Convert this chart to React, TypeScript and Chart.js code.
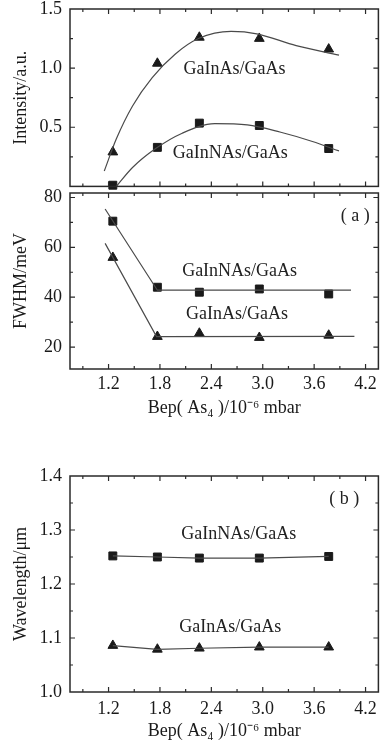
import React, { useEffect, useRef } from 'react';
import { Chart, registerables } from 'chart.js';

Chart.register(...registerables);

// ---------- data ----------
const bep = [1.25, 1.77, 2.26, 2.96, 3.77];

const intensityGaInAs = [0.29, 1.04, 1.26, 1.25, 1.16];
const intensityGaInNAs = [0.01, 0.33, 0.535, 0.515, 0.32];
const intFitGaInAsX = [1.15, 1.29, 1.48, 1.71, 1.98, 2.25, 2.63, 2.93, 3.39, 3.89];
const intFitGaInAsY = [0.13, 0.4, 0.68, 0.92, 1.12, 1.25, 1.31, 1.29, 1.19, 1.11];
const intFitGaInNAsX = [1.29, 1.48, 1.75, 2.06, 2.44, 2.82, 3.2, 3.58, 3.89];
const intFitGaInNAsY = [0.0, 0.16, 0.32, 0.45, 0.53, 0.52, 0.46, 0.38, 0.3];

const fwhmGaInNAs = [70.5, 44.0, 42.0, 43.3, 41.3];
const fwhmGaInAs = [55.9, 24.2, 25.5, 23.8, 24.7];
const fwhmFitGaInNAsX = [1.16, 1.77, 4.03];
const fwhmFitGaInNAsY = [75.4, 42.8, 42.8];
const fwhmFitGaInAsX = [1.16, 1.76, 4.07];
const fwhmFitGaInAsY = [61.6, 24.2, 24.3];

const wlGaInNAs = [1.252, 1.25, 1.248, 1.248, 1.251];
const wlGaInAs = [1.086, 1.079, 1.081, 1.083, 1.083];

const xTicks = [0.9, 1.2, 1.5, 1.8, 2.1, 2.4, 2.7, 3.0, 3.3, 3.6, 3.9, 4.2];
const xTickLabels = [1.2, 1.8, 2.4, 3.0, 3.6, 4.2];
const intTicks = [0, 0.25, 0.5, 0.75, 1.0, 1.25, 1.5];
const intTickLabels = [0.5, 1.0, 1.5];
const fwhmTicks = [20, 30, 40, 50, 60, 70, 80];
const fwhmTickLabels = [20, 40, 60, 80];
const wlTicks = [1.0, 1.05, 1.1, 1.15, 1.2, 1.25, 1.3, 1.35, 1.4];
const wlTickLabels = [1.0, 1.1, 1.2, 1.3, 1.4];

const xTitle = 'Bep( As\u2084 )/10\u207B\u2076 mbar';

// ---------- helpers ----------
const FONT = "'Liberation Serif', 'Times New Roman', serif";
const INK = '#1a1a1a';
const LINE = '#4a4a4a';

const pts = (xs: number[], ys: number[]) => xs.map((x, i) => ({ x, y: ys[i] }));
const has = (arr: number[], v: number) => arr.some((a) => Math.abs(a - v) < 1e-6);

type Txt = { text: string; x: number; y: number };

const framePlugin = {
  id: 'frameTicks',
  afterDatasetsDraw(chart: any, _args: any, opts: any) {
    const { ctx, chartArea } = chart;
    const { left, right, top, bottom } = chartArea;
    const xs = chart.scales.x;
    const ys = chart.scales.y;
    ctx.save();
    ctx.strokeStyle = '#2a2a2a';
    ctx.lineWidth = 1.5;
    ctx.strokeRect(left, top, right - left, bottom - top);
    ctx.lineWidth = 1.2;
    ctx.beginPath();
    xs.ticks.forEach((t: any) => {
      const p = xs.getPixelForValue(t.value);
      if (p < left + 1 || p > right - 1) return;
      const len = t.label !== '' ? 5 : 3;
      ctx.moveTo(p, bottom);
      ctx.lineTo(p, bottom - len);
      ctx.moveTo(p, top);
      ctx.lineTo(p, top + len);
    });
    ys.ticks.forEach((t: any) => {
      const p = ys.getPixelForValue(t.value);
      if (p < top + 1 || p > bottom - 1) return;
      const len = t.label !== '' ? 5 : 3;
      ctx.moveTo(left, p);
      ctx.lineTo(left + len, p);
      ctx.moveTo(right, p);
      ctx.lineTo(right - len, p);
    });
    ctx.stroke();
    ctx.fillStyle = '#222';
    ctx.font = `18px ${FONT}`;
    ctx.textAlign = 'center';
    ctx.textBaseline = 'middle';
    ((opts && opts.texts) || []).forEach((t: Txt) => {
      ctx.fillText(t.text, xs.getPixelForValue(t.x), ys.getPixelForValue(t.y));
    });
    ctx.restore();
  },
};

function markerSet(xs: number[], ys: number[], style: string) {
  return {
    data: pts(xs, ys),
    showLine: false,
    pointStyle: style,
    pointRadius: 5.6,
    pointBackgroundColor: INK,
    pointBorderColor: INK,
    pointBorderWidth: 1,
    clip: false as any,
  };
}

function lineSet(xs: number[], ys: number[], smooth: boolean) {
  return {
    data: pts(xs, ys),
    showLine: true,
    pointRadius: 0,
    borderColor: LINE,
    borderWidth: 1.2,
    cubicInterpolationMode: smooth ? 'monotone' : 'default',
    tension: 0,
    clip: false as any,
  };
}

interface PanelOpts {
  datasets: any[];
  yMin: number;
  yMax: number;
  yTicks: number[];
  yLabels: number[];
  yDecimals: number;
  yTitle: string;
  showX: boolean;
  xHeight: number;
  xPad: number;
  padTop: number;
  texts: Txt[];
}

function makeConfig(o: PanelOpts): any {
  return {
    type: 'scatter',
    data: { datasets: o.datasets },
    plugins: [framePlugin],
    options: {
      animation: false,
      responsive: false,
      devicePixelRatio: 1,
      events: [],
      layout: { padding: { top: o.padTop, left: 6, right: 2, bottom: 0 } },
      plugins: {
        legend: { display: false },
        tooltip: { enabled: false },
        frameTicks: { texts: o.texts },
      },
      scales: {
        x: {
          type: 'linear',
          min: 0.75,
          max: 4.35,
          grid: { display: false, drawTicks: false },
          border: { display: false },
          afterBuildTicks: (s: any) => {
            s.ticks = xTicks.map((v) => ({ value: v }));
          },
          afterFit: (s: any) => {
            s.height = o.xHeight;
            s.paddingLeft = 0;
            s.paddingRight = 0;
          },
          ticks: {
            display: o.showX,
            autoSkip: false,
            maxRotation: 0,
            padding: o.xPad,
            color: INK,
            font: { family: FONT, size: 18 },
            callback: (v: any) => (has(xTickLabels, Number(v)) ? Number(v).toFixed(1) : ''),
          },
          title: {
            display: o.showX,
            text: xTitle,
            color: INK,
            font: { family: FONT, size: 18 },
            padding: { top: 4, bottom: 4 },
          },
        },
        y: {
          type: 'linear',
          min: o.yMin,
          max: o.yMax,
          grid: { display: false, drawTicks: false },
          border: { display: false },
          afterBuildTicks: (s: any) => {
            s.ticks = o.yTicks.map((v) => ({ value: v }));
          },
          afterFit: (s: any) => {
            s.width = 64;
            s.paddingTop = 0;
            s.paddingBottom = 0;
          },
          ticks: {
            autoSkip: false,
            padding: 8,
            color: INK,
            font: { family: FONT, size: 18 },
            callback: (v: any) => (has(o.yLabels, Number(v)) ? Number(v).toFixed(o.yDecimals) : ''),
          },
          title: {
            display: true,
            text: o.yTitle,
            color: INK,
            font: { family: FONT, size: 18 },
            padding: { top: 4, bottom: 4 },
          },
        },
      },
    },
  };
}

function Panel({ top, height, config }: { top: number; height: number; config: any }) {
  const ref = useRef<HTMLCanvasElement>(null);
  useEffect(() => {
    const chart = new Chart(ref.current as HTMLCanvasElement, config);
    return () => chart.destroy();
  }, []);
  return (
    <canvas
      ref={ref}
      width={385}
      height={height}
      style={{ position: 'absolute', left: 0, top, width: 385, height, display: 'block' }}
    />
  );
}

const intensityConfig = makeConfig({
  datasets: [
    lineSet(intFitGaInAsX, intFitGaInAsY, true),
    lineSet(intFitGaInNAsX, intFitGaInNAsY, true),
    markerSet(bep, intensityGaInAs, 'triangle'),
    markerSet(bep, intensityGaInNAs, 'rect'),
  ],
  yMin: 0,
  yMax: 1.5,
  yTicks: intTicks,
  yLabels: intTickLabels,
  yDecimals: 1,
  yTitle: 'Intensity/a.u.',
  showX: false,
  xHeight: 0,
  xPad: 4,
  padTop: 9,
  texts: [
    { text: 'GaInAs/GaAs', x: 2.67, y: 0.99 },
    { text: 'GaInNAs/GaAs', x: 2.62, y: 0.28 },
  ],
});

const fwhmConfig = makeConfig({
  datasets: [
    lineSet(fwhmFitGaInNAsX, fwhmFitGaInNAsY, false),
    lineSet(fwhmFitGaInAsX, fwhmFitGaInAsY, false),
    markerSet(bep, fwhmGaInNAs, 'rect'),
    markerSet(bep, fwhmGaInAs, 'triangle'),
  ],
  yMin: 11.2,
  yMax: 81.8,
  yTicks: fwhmTicks,
  yLabels: fwhmTickLabels,
  yDecimals: 0,
  yTitle: 'FWHM/meV',
  showX: true,
  xHeight: 54,
  xPad: 4,
  padTop: 10,
  texts: [
    { text: 'GaInNAs/GaAs', x: 2.73, y: 50.4 },
    { text: 'GaInAs/GaAs', x: 2.7, y: 33.1 },
    { text: '( a )', x: 4.08, y: 72.6 },
  ],
});

const wlConfig = makeConfig({
  datasets: [
    { ...lineSet(bep, wlGaInNAs, false) },
    { ...lineSet(bep, wlGaInAs, false) },
    markerSet(bep, wlGaInNAs, 'rect'),
    markerSet(bep, wlGaInAs, 'triangle'),
  ],
  yMin: 1.0,
  yMax: 1.4,
  yTicks: wlTicks,
  yLabels: wlTickLabels,
  yDecimals: 1,
  yTitle: 'Wavelength/\u03BCm',
  showX: true,
  xHeight: 54,
  xPad: 6,
  padTop: 10,
  texts: [
    { text: 'GaInNAs/GaAs', x: 2.72, y: 1.293 },
    { text: 'GaInAs/GaAs', x: 2.62, y: 1.12 },
    { text: '( b )', x: 3.95, y: 1.357 },
  ],
});

export default function App() {
  return (
    <div style={{ position: 'absolute', left: 0, top: 0, width: 385, height: 747, background: '#fff' }}>
      <Panel top={0} height={193} config={intensityConfig} />
      <Panel top={183} height={240} config={fwhmConfig} />
      <Panel top={466} height={280} config={wlConfig} />
    </div>
  );
}
